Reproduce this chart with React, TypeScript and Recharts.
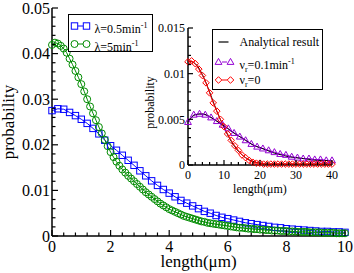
import React from 'react';
import { LineChart, Line, XAxis, YAxis, Legend } from 'recharts';

const FONT = '"Liberation Serif", "Times New Roman", serif';
const BLUE = '#0000ff';
const GREEN = '#008b00';
const RED = '#ff0000';
const VIOLET = '#9400d3';

// ---- main panel: length (μm) ----
const lengthCoarse = [
  0, 0.2, 0.4, 0.6, 0.8, 1, 1.2, 1.4, 1.6, 1.8, 2, 2.2, 2.4, 2.6, 2.8, 3, 3.2, 3.4, 3.6, 3.8, 4,
  4.2, 4.4, 4.6, 4.8, 5, 5.2, 5.4, 5.6, 5.8, 6, 6.2, 6.4, 6.6, 6.8, 7, 7.2, 7.4, 7.6, 7.8, 8,
  8.2, 8.4, 8.6, 8.8, 9, 9.2, 9.4, 9.6, 9.8, 10,
];
const lengthFine = [
  0, 0.1, 0.2, 0.3, 0.4, 0.5, 0.6, 0.7, 0.8, 0.9, 1, 1.1, 1.2, 1.3, 1.4, 1.5, 1.6, 1.7, 1.8, 1.9,
  2, 2.1, 2.2, 2.3, 2.4, 2.5, 2.6, 2.7, 2.8, 2.9, 3, 3.1, 3.2, 3.3, 3.4, 3.5, 3.6, 3.7, 3.8, 3.9,
  4, 4.1, 4.2, 4.3, 4.4, 4.5, 4.6, 4.7, 4.8, 4.9, 5, 5.1, 5.2, 5.3, 5.4, 5.5, 5.6, 5.7, 5.8, 5.9,
  6, 6.1, 6.2, 6.3, 6.4, 6.5, 6.6, 6.7, 6.8, 6.9, 7, 7.1, 7.2, 7.3, 7.4, 7.5, 7.6, 7.7, 7.8, 7.9,
  8, 8.1, 8.2, 8.3, 8.4, 8.5, 8.6, 8.7, 8.8, 8.9, 9, 9.1, 9.2, 9.3, 9.4, 9.5, 9.6, 9.7, 9.8, 9.9,
  10,
];
// λ = 0.5 min^-1 (blue squares)
const probLambdaSlow = [
  0.0275, 0.0279, 0.0278, 0.0271, 0.0264, 0.0256, 0.0247, 0.0236, 0.0224, 0.021, 0.0198,
  0.0188, 0.0177, 0.0166, 0.0155, 0.0143, 0.0132, 0.0121, 0.0111, 0.0102, 0.0094,
  0.0086, 0.0078, 0.0072, 0.0066, 0.006, 0.0054, 0.005, 0.0045, 0.0041, 0.0038,
  0.0035, 0.0032, 0.0029, 0.0027, 0.0025, 0.0023, 0.0021, 0.0019, 0.0018, 0.0016,
  0.0015, 0.0014, 0.0013, 0.0012, 0.0011, 0.001, 0.001, 0.0009, 0.0009, 0.0008,
];
// λ = 5 min^-1 (green circles)
const probLambdaFast = [
  0.0419, 0.0424, 0.0422, 0.0417, 0.0411, 0.0402, 0.0389, 0.0376, 0.0362, 0.0348,
  0.0333, 0.0317, 0.03, 0.0284, 0.0269, 0.0254, 0.0239, 0.0225, 0.0211, 0.0197,
  0.0184, 0.0173, 0.0163, 0.0154, 0.0146, 0.0139, 0.0132, 0.0126, 0.012, 0.0114,
  0.0108, 0.0102, 0.0096, 0.0091, 0.0086, 0.0081, 0.0076, 0.0071, 0.0067, 0.0063,
  0.0059, 0.0056, 0.0053, 0.005, 0.0047, 0.0044, 0.0042, 0.004, 0.0038, 0.0036,
  0.0034, 0.0032, 0.0031, 0.0029, 0.0028, 0.0027, 0.0026, 0.0025, 0.0024, 0.0023,
  0.0022, 0.0021, 0.002, 0.0019, 0.0018, 0.0018, 0.0017, 0.0016, 0.0016, 0.0015,
  0.0015, 0.0014, 0.0014, 0.0013, 0.0013, 0.0012, 0.0012, 0.0012, 0.0011, 0.0011,
  0.0011, 0.001, 0.001, 0.001, 0.0009, 0.0009, 0.0009, 0.0009, 0.0008, 0.0008,
  0.0008, 0.0008, 0.0007, 0.0007, 0.0007, 0.0007, 0.0007, 0.0006, 0.0006, 0.0006,
  0.0006,
];

// ---- inset: length (μm) ----
const insetLengthDiamond = [
  0, 1, 2, 3, 4, 5, 6, 7, 8, 9, 10, 11, 12, 13, 14, 15, 16, 17, 18, 19, 20,
  21, 22, 23, 24, 25, 26, 27, 28, 29, 30, 31, 32, 33, 34, 35, 36, 37, 38, 39, 40,
];
const insetLengthTriangle = [
  0, 1.6, 3.2, 4.8, 6.4, 8, 9.6, 11.2, 12.8, 14.4, 16, 17.6, 19.2, 20.8, 22.4, 24,
  25.6, 27.2, 28.8, 30.4, 32, 33.6, 35.2, 36.8, 38.4, 40,
];
const insetLengthTheory = [0, 2, 4, 6, 8, 10, 12, 14, 16, 18, 20, 22, 24, 26, 28, 30, 32, 34, 36, 38, 40];
// ν_r = 0 (red diamonds)
const probNoRescue = [
  0.0113, 0.0114, 0.0111, 0.0105, 0.0098, 0.009, 0.0079, 0.0068, 0.0059, 0.005, 0.0042,
  0.0034, 0.0027, 0.0021, 0.0016, 0.0011, 0.0008, 0.0005, 0.0003, 0.0002, 0.0002,
  0.0001, 0.0001, 0.0001, 0.0001, 0.0001, 0.0001, 0.0001, 0.0001, 0.0001, 0.0001,
  0.0001, 0.0001, 0.0001, 0.0001, 0.0001, 0.0001, 0.0001, 0.0001, 0.0001, 0.0001,
];
// ν_r = 0.1 min^-1 (violet triangles)
const probRescue = [
  0.0047, 0.0055, 0.0056, 0.0055, 0.0052, 0.0048, 0.0044, 0.004, 0.0035, 0.0031, 0.0027,
  0.0023, 0.002, 0.0018, 0.0016, 0.0014, 0.0012, 0.0011, 0.0009, 0.0008, 0.0007, 0.0007,
  0.0006, 0.0006, 0.0005, 0.0005,
];
const theoryNoRescue = [
  0.0114, 0.0111, 0.0099, 0.008, 0.0059, 0.0041, 0.0026, 0.0015, 0.0008, 0.0004, 0.0002,
  0.0001, 0.0001, 0.0001, 0.0001, 0.0001, 0.0001, 0.0001, 0.0001, 0.0001, 0.0001,
];
const theoryRescue = [
  0.0048, 0.0055, 0.0056, 0.0053, 0.0048, 0.0043, 0.0037, 0.0032, 0.0027, 0.0022, 0.0019,
  0.0016, 0.0013, 0.0011, 0.0009, 0.0008, 0.0007, 0.0006, 0.0005, 0.0005, 0.0004,
];

// tick labels
const mainXMajor = [0, 2, 4, 6, 8, 10];
const mainYMajor = [0, 0.01, 0.02, 0.03, 0.04, 0.05];
const insetXMajor = [0, 10, 20, 30, 40];
const insetYMajor = [0, 0.005, 0.01, 0.015];

const steps = (from: number, to: number, step: number) =>
  Array.from({ length: Math.round((to - from) / step) + 1 }, (_, i) => +(from + i * step).toFixed(6));

const mainXTicks = steps(0, 10, 0.4);
const mainYTicks = steps(0, 0.05, 0.002);
const insetXTicks = steps(0, 40, 2);
const insetYTicks = steps(0, 0.015, 0.001);

const toPoints = (xs: number[], ys: number[]) => xs.map((x, i) => ({ x, y: ys[i] }));
const isMajor = (v: number, majors: number[]) => majors.some((m) => Math.abs(m - v) < 1e-9);

type Shape = 'square' | 'circle' | 'triangle' | 'diamond';

function Marker({ shape, cx, cy, color }: { shape: Shape; cx: number; cy: number; color: string }) {
  const common = { fill: 'none', stroke: color, strokeWidth: 1 };
  if (shape === 'square') return <rect x={cx - 3.2} y={cy - 3.2} width={6.4} height={6.4} {...common} />;
  if (shape === 'circle') return <circle cx={cx} cy={cy} r={3.5} {...common} />;
  if (shape === 'triangle')
    return <polygon points={`${cx},${cy - 3.6} ${cx - 3.4},${cy + 2.4} ${cx + 3.4},${cy + 2.4}`} {...common} />;
  return <polygon points={`${cx},${cy - 3.3} ${cx + 3.3},${cy} ${cx},${cy + 3.3} ${cx - 3.3},${cy}`} {...common} />;
}

const dotOf = (shape: Shape, color: string) => (p: any) =>
  p.cx == null ? <g key={`d${p.index}`} /> : <Marker key={`d${p.index}`} shape={shape} cx={p.cx} cy={p.cy} color={color} />;

type Side = 'left' | 'bottom' | 'top' | 'right';

// ticks point inward on every side; labels only on left/bottom majors
const tickOf =
  (side: Side, majors: number[], gap: number, major: number, minor: number, fontSize: number) =>
  (p: any) => {
    const { x, y, payload } = p;
    const v = payload.value;
    const big = isMajor(v, majors);
    const len = big ? major : minor;
    const ln = { stroke: '#000', strokeWidth: 1.2 };
    if (side === 'left') {
      const ax = x + gap;
      return (
        <g>
          <line x1={ax} y1={y} x2={ax + len} y2={y} {...ln} />
          {big && (
            <text x={x} y={y} dy="0.35em" textAnchor="end" fontFamily={FONT} fontSize={fontSize} fill="#000">
              {String(v)}
            </text>
          )}
        </g>
      );
    }
    if (side === 'bottom') {
      const ay = y - gap;
      return (
        <g>
          <line x1={x} y1={ay} x2={x} y2={ay - len} {...ln} />
          {big && (
            <text x={x} y={y} dy="0.71em" textAnchor="middle" fontFamily={FONT} fontSize={fontSize} fill="#000">
              {String(v)}
            </text>
          )}
        </g>
      );
    }
    if (side === 'top') return <line x1={x} y1={y} x2={x} y2={y + len} {...ln} />;
    return <line x1={x} y1={y} x2={x - len} y2={y} {...ln} />;
  };

const frame = { stroke: '#000', strokeWidth: 1.5 };

const legendOrder = ['lambdaSlow', 'lambdaFast', 'analytical', 'rescue', 'noRescue'];

const seriesStyle: Record<string, { shape?: Shape; color: string; label: React.ReactNode }> = {
  lambdaSlow: {
    shape: 'square',
    color: BLUE,
    label: (
      <>
        λ=0.5min<sup style={{ fontSize: 8 }}>-1</sup>
      </>
    ),
  },
  lambdaFast: {
    shape: 'circle',
    color: GREEN,
    label: (
      <>
        λ=5min<sup style={{ fontSize: 8 }}>-1</sup>
      </>
    ),
  },
  analytical: { color: '#000', label: 'Analytical result' },
  rescue: {
    shape: 'triangle',
    color: VIOLET,
    label: (
      <>
        ν<sub style={{ fontSize: 8 }}>r</sub>=0.1min<sup style={{ fontSize: 8 }}>-1</sup>
      </>
    ),
  },
  noRescue: {
    shape: 'diamond',
    color: RED,
    label: (
      <>
        ν<sub style={{ fontSize: 8 }}>r</sub>=0
      </>
    ),
  },
};

const legendOf = (width: number, height: number, rowTops: number[], lineFrom: number, lineTo: number, textLeft: number) =>
  (props: any) => {
    const items = (props.payload ?? [])
      .filter((e: any) => e.type !== 'none' && seriesStyle[e.value])
      .sort((a: any, b: any) => legendOrder.indexOf(a.value) - legendOrder.indexOf(b.value));
    return (
      <div
        style={{
          position: 'relative',
          width,
          height,
          boxSizing: 'border-box',
          border: '1.5px solid #000',
          background: '#fff',
          fontFamily: FONT,
          fontSize: 12,
          color: '#000',
        }}
      >
        {items.map((e: any, i: number) => {
          const s = seriesStyle[e.value];
          return (
            <div key={e.value} style={{ position: 'absolute', left: 0, top: rowTops[i], height: 14, width: width - 3 }}>
              <svg width={26} height={14} style={{ position: 'absolute', left: 0, top: 0 }}>
                {s.shape ? (
                  <>
                    <line x1={lineFrom + 3.5} y1={7} x2={lineTo - 3.5} y2={7} stroke={s.color} strokeWidth={1} />
                    <Marker shape={s.shape} cx={lineFrom} cy={7} color={s.color} />
                    <Marker shape={s.shape} cx={lineTo} cy={7} color={s.color} />
                  </>
                ) : (
                  <line x1={lineFrom} y1={7} x2={lineTo - 2} y2={7} stroke={s.color} strokeWidth={1.2} />
                )}
              </svg>
              <span style={{ position: 'absolute', left: textLeft, top: 0, lineHeight: '14px', whiteSpace: 'nowrap' }}>
                {s.label}
              </span>
            </div>
          );
        })}
      </div>
    );
  };

function Inset() {
  return (
    <LineChart width={200} height={185} margin={{ top: 8, right: 8, bottom: 0, left: 0 }}>
      <XAxis
        dataKey="x"
        type="number"
        domain={[0, 40]}
        ticks={insetXTicks}
        interval={0}
        height={40}
        tickSize={0}
        tickMargin={5}
        tickLine={false}
        axisLine={frame}
        tick={tickOf('bottom', insetXMajor, 5, 5, 3, 12)}
        label={{
          content: (p: any) => {
            const vb = p.viewBox;
            return (
              <text x={vb.x + vb.width / 2} y={vb.y + 28} textAnchor="middle" fontFamily={FONT} fontSize={12}>
                length(μm)
              </text>
            );
          },
        }}
      />
      <XAxis
        xAxisId="top"
        orientation="top"
        dataKey="x"
        type="number"
        domain={[0, 40]}
        ticks={insetXTicks}
        interval={0}
        height={0}
        tickSize={0}
        tickMargin={0}
        tickLine={false}
        axisLine={frame}
        tick={tickOf('top', insetXMajor, 0, 5, 3, 12)}
      />
      <YAxis
        type="number"
        domain={[0, 0.015]}
        ticks={insetYTicks}
        interval={0}
        width={48}
        tickSize={0}
        tickMargin={3}
        tickLine={false}
        axisLine={frame}
        tick={tickOf('left', insetYMajor, 3, 5, 3, 12)}
        label={{
          content: (p: any) => {
            const vb = p.viewBox;
            const x = vb.x + 14;
            const y = vb.y + vb.height / 2 + 6;
            return (
              <text x={x} y={y} transform={`rotate(-90 ${x} ${y})`} textAnchor="middle" fontFamily={FONT} fontSize={12}>
                probability
              </text>
            );
          },
        }}
      />
      <YAxis
        yAxisId="right"
        orientation="right"
        type="number"
        domain={[0, 0.015]}
        ticks={insetYTicks}
        interval={0}
        width={0}
        tickSize={0}
        tickMargin={0}
        tickLine={false}
        axisLine={frame}
        tick={tickOf('right', insetYMajor, 0, 5, 3, 12)}
      />
      <Legend
        layout="horizontal"
        verticalAlign="middle"
        align="center"
        wrapperStyle={{ left: 72, top: 9, width: 111, height: 61 }}
        content={legendOf(111, 61, [4.5, 24.5, 42.5], 5.5, 17.5, 26.5)}
      />
      <Line
        data={toPoints(insetLengthTheory, theoryNoRescue)}
        dataKey="y"
        name="analytical"
        type="monotone"
        stroke="#000"
        strokeWidth={1}
        dot={false}
        activeDot={false}
        isAnimationActive={false}
      />
      <Line
        data={toPoints(insetLengthTriangle, probRescue)}
        dataKey="y"
        name="rescue"
        stroke={VIOLET}
        strokeWidth={1}
        dot={dotOf('triangle', VIOLET)}
        activeDot={false}
        isAnimationActive={false}
      />
      <Line
        data={toPoints(insetLengthDiamond, probNoRescue)}
        dataKey="y"
        name="noRescue"
        stroke={RED}
        strokeWidth={1}
        dot={dotOf('diamond', RED)}
        activeDot={false}
        isAnimationActive={false}
      />
      <Line
        data={toPoints(insetLengthTheory, theoryRescue)}
        dataKey="y"
        name="analyticalRescue"
        legendType="none"
        type="monotone"
        stroke="#000"
        strokeWidth={1}
        dot={false}
        activeDot={false}
        isAnimationActive={false}
      />
    </LineChart>
  );
}

export default function App() {
  return (
    <div style={{ position: 'absolute', left: 0, top: 0, width: 354, height: 273, background: '#fff' }}>
      <LineChart width={354} height={273} margin={{ top: 8, right: 9, bottom: 0, left: 0 }}>
        <XAxis
          dataKey="x"
          type="number"
          domain={[0, 10]}
          ticks={mainXTicks}
          interval={0}
          height={37}
          tickSize={0}
          tickMargin={5}
          tickLine={false}
          axisLine={frame}
          tick={tickOf('bottom', mainXMajor, 5, 6, 3.5, 16)}
          label={{
            content: (p: any) => {
              const vb = p.viewBox;
              return (
                <text x={vb.x + vb.width / 2} y={vb.y + 31} textAnchor="middle" fontFamily={FONT} fontSize={17}>
                  length(μm)
                </text>
              );
            },
          }}
        />
        <XAxis
          xAxisId="top"
          orientation="top"
          dataKey="x"
          type="number"
          domain={[0, 10]}
          ticks={mainXTicks}
          interval={0}
          height={0}
          tickSize={0}
          tickMargin={0}
          tickLine={false}
          axisLine={frame}
          tick={tickOf('top', mainXMajor, 0, 6, 3.5, 16)}
        />
        <YAxis
          type="number"
          domain={[0, 0.05]}
          ticks={mainYTicks}
          interval={0}
          width={52}
          tickSize={0}
          tickMargin={2}
          tickLine={false}
          axisLine={frame}
          tick={tickOf('left', mainYMajor, 2, 6, 3.5, 16)}
          label={{
            content: (p: any) => {
              const vb = p.viewBox;
              const x = vb.x + 14;
              const y = vb.y + vb.height / 2;
              return (
                <text x={x} y={y} transform={`rotate(-90 ${x} ${y})`} textAnchor="middle" fontFamily={FONT} fontSize={17}>
                  probability
                </text>
              );
            },
          }}
        />
        <YAxis
          yAxisId="right"
          orientation="right"
          type="number"
          domain={[0, 0.05]}
          ticks={mainYTicks}
          interval={0}
          width={0}
          tickSize={0}
          tickMargin={0}
          tickLine={false}
          axisLine={frame}
          tick={tickOf('right', mainYMajor, 0, 6, 3.5, 16)}
        />
        <Legend
          layout="horizontal"
          verticalAlign="middle"
          align="center"
          wrapperStyle={{ left: 68, top: 14, width: 85, height: 38 }}
          content={legendOf(85, 38, [4, 21.5], 5.5, 17.5, 25.5)}
        />
        <Line
          data={toPoints(lengthCoarse, probLambdaSlow)}
          dataKey="y"
          name="lambdaSlow"
          stroke={BLUE}
          strokeWidth={1}
          dot={dotOf('square', BLUE)}
          activeDot={false}
          isAnimationActive={false}
        />
        <Line
          data={toPoints(lengthFine, probLambdaFast)}
          dataKey="y"
          name="lambdaFast"
          stroke={GREEN}
          strokeWidth={1}
          dot={dotOf('circle', GREEN)}
          activeDot={false}
          isAnimationActive={false}
        />
      </LineChart>
      <div style={{ position: 'absolute', left: 140, top: 20 }}>
        <Inset />
      </div>
    </div>
  );
}
